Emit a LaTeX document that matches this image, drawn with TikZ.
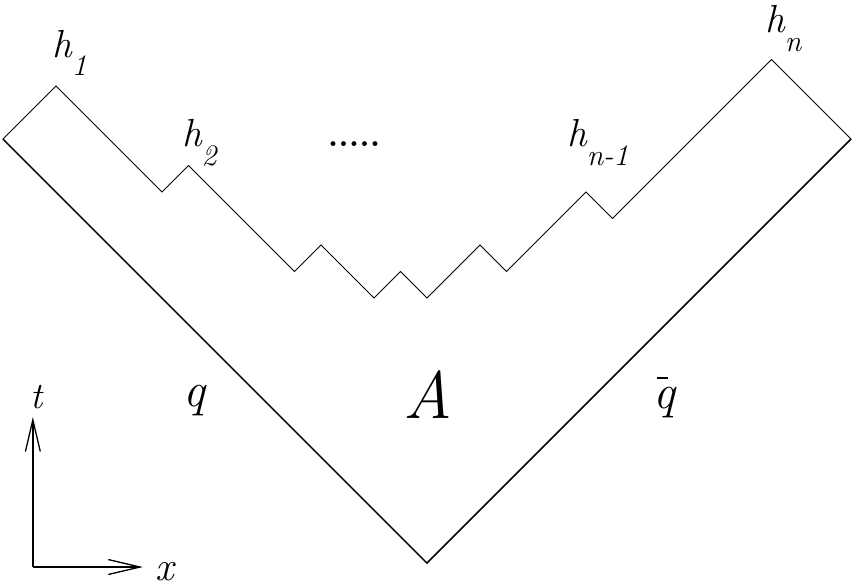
\documentclass[tikz,border=0pt]{standalone}
\usetikzlibrary{arrows.meta}
\newcommand\hsub[1]{\raisebox{-10pt}{\fontsize{16}{16}\selectfont #1}}
\tikzset{
  lbl/.style={inner sep=0pt, anchor=base west},
  outer/.style={line width=0.8pt},
  jag/.style={line width=0.45pt, line join=miter},
  axis/.style={line width=0.7pt, -{Straight Barb[length=17pt,width=8pt]}}
}
\begin{document}
\begin{tikzpicture}[x=0.5cm,y=0.5cm]
                \useasboundingbox (-16.11,-0.868) rectangle (16.15,21.245);
                %\draw[help lines] (-16,0) grid (16,20);
                \draw (0,0) coordinate(bot);
                \draw (-16,16) coordinate(lc);
                \draw (16,16) coordinate(rc);
                \draw (-14,18) coordinate(p1);
                \draw (-9,15) coordinate(p2);
                \draw (6,14) coordinate(pm);
                \draw (13,19) coordinate(pn);
                \draw[outer] (lc) -- (bot) -- (rc);
                \draw[jag] (lc) -- (p1) -- (-10,14) -- (p2) -- (-5,11) -- (-4,12) -- (-2,10) -- (-1,11)
                  -- (0,10) -- (2,12) -- (3,11) -- (pm) -- (7,13) -- (pn) -- (rc);
                \node[lbl, font=\itshape\fontsize{21}{21}\selectfont] (h1) at (-14.15,19.09) {h\hsub{1}};
                \node[lbl, font=\itshape\fontsize{21}{21}\selectfont] (h2) at (-9.25,15.70) {h\hsub{2}};
                \node[lbl, font=\bfseries\fontsize{18}{18}\selectfont] (dots) at (-3.75,15.70) {.....};
                \node[lbl, font=\itshape\fontsize{21}{21}\selectfont] (hm) at (5.28,15.70) {h\hsub{n-1}};
                \node[lbl, font=\itshape\fontsize{21}{21}\selectfont] (hn) at (12.75,20.0) {h\hsub{n}};
                \node[lbl, font=\itshape\fontsize{26}{26}\selectfont] (q) at (-9.21,5.89) {q};
                \node[lbl, anchor=base, font=\itshape\fontsize{36}{36}\selectfont] (amp) at (0.04,5.47) {A};
                \node[lbl, font=\itshape\fontsize{26}{26}\selectfont] (qb) at (8.53,5.85)
                  {\rlap{\hspace{2pt}\raisebox{15.6pt}{\rule{6pt}{0.9pt}}}q};
                % axes
                \draw (-14.87,-0.15) coordinate(o);
                \draw (-14.87,5.51) coordinate(tend);
                \draw (-10.72,-0.15) coordinate(xend);
                \draw[axis] (o) -- (tend);
                \draw[axis] (o) -- (xend);
                \node[lbl, font=\itshape\fontsize{20}{20}\selectfont] (t) at (-14.98,5.85) {t};
                \node[lbl, font=\itshape\fontsize{22}{22}\selectfont] (x) at (-10.26,-0.66) {x};
\end{tikzpicture}
\end{document}
